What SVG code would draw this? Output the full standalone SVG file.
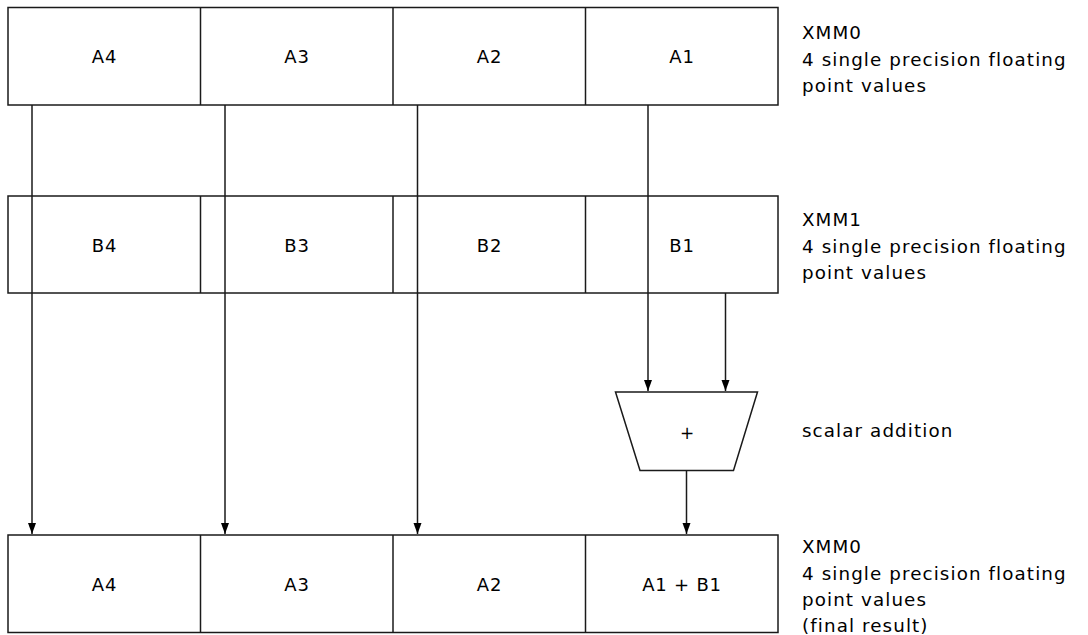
<svg xmlns="http://www.w3.org/2000/svg" width="1088" height="635" viewBox="0 0 1088 635">
<style>
.box{fill:#fff;stroke:#1a1a1a;stroke-width:1.5}
.ln{stroke:#1a1a1a;stroke-width:1.5;fill:none}
.cell{font-family:"DejaVu Sans",sans-serif;font-size:18px;fill:#000;text-anchor:middle;letter-spacing:0.8px}
.lbl{font-family:"DejaVu Sans",sans-serif;font-size:18.3px;fill:#000;letter-spacing:1.1px}
.plus{font-family:"DejaVu Sans",sans-serif;font-size:17px;fill:#000;text-anchor:middle}
</style>
<defs>
<marker id="arr" markerUnits="userSpaceOnUse" markerWidth="12" markerHeight="10" refX="11" refY="5" orient="auto" viewBox="0 0 12 10">
<path d="M0,1 L11,5 L0,9 z" fill="#000"/>
</marker>
</defs>
<rect width="1088" height="635" fill="#fff"/>

<g id="xmm0-top">
<rect class="box" x="8" y="7.5" width="770" height="97.5"/>
<line class="ln" x1="200.5" y1="7.5" x2="200.5" y2="105"/>
<line class="ln" x1="393" y1="7.5" x2="393" y2="105"/>
<line class="ln" x1="585.5" y1="7.5" x2="585.5" y2="105"/>
<text class="cell" x="104.5" y="63">A4</text>
<text class="cell" x="297" y="63">A3</text>
<text class="cell" x="489.5" y="63">A2</text>
<text class="cell" x="682" y="63">A1</text>
<text class="lbl" x="802" y="39">XMM0</text>
<text class="lbl" x="802" y="66">4 single precision floating</text>
<text class="lbl" x="802" y="92">point values</text>
</g>

<g id="xmm1">
<rect class="box" x="8" y="196" width="770" height="97"/>
<line class="ln" x1="200.5" y1="196" x2="200.5" y2="293"/>
<line class="ln" x1="393" y1="196" x2="393" y2="293"/>
<line class="ln" x1="585.5" y1="196" x2="585.5" y2="293"/>
<text class="cell" x="104.5" y="252">B4</text>
<text class="cell" x="297" y="252">B3</text>
<text class="cell" x="489.5" y="252">B2</text>
<text class="cell" x="682" y="252">B1</text>
<text class="lbl" x="802" y="226">XMM1</text>
<text class="lbl" x="802" y="252.5">4 single precision floating</text>
<text class="lbl" x="802" y="279">point values</text>
</g>

<g id="adder">
<polygon class="box" points="615.5,392 757.5,392 733.5,470.5 640,470.5"/>
<text class="plus" x="687" y="439">+</text>
<text class="lbl" x="802" y="437">scalar addition</text>
</g>

<g id="xmm0-result">
<rect class="box" x="8" y="535" width="770" height="97.5"/>
<line class="ln" x1="200.5" y1="535" x2="200.5" y2="632.5"/>
<line class="ln" x1="393" y1="535" x2="393" y2="632.5"/>
<line class="ln" x1="585.5" y1="535" x2="585.5" y2="632.5"/>
<text class="cell" x="104.5" y="590.5">A4</text>
<text class="cell" x="297" y="590.5">A3</text>
<text class="cell" x="489.5" y="590.5">A2</text>
<text class="cell" x="682" y="590.5">A1 + B1</text>
<text class="lbl" x="802" y="553">XMM0</text>
<text class="lbl" x="802" y="579.5">4 single precision floating</text>
<text class="lbl" x="802" y="606">point values</text>
<text class="lbl" x="802" y="632">(final result)</text>
</g>

<g id="connectors">
<line class="ln" x1="32" y1="105" x2="32" y2="534" marker-end="url(#arr)"/>
<line class="ln" x1="225" y1="105" x2="225" y2="534" marker-end="url(#arr)"/>
<line class="ln" x1="417.5" y1="105" x2="417.5" y2="534" marker-end="url(#arr)"/>
<line class="ln" x1="648" y1="105" x2="648" y2="391" marker-end="url(#arr)"/>
<line class="ln" x1="725.5" y1="293" x2="725.5" y2="391" marker-end="url(#arr)"/>
<line class="ln" x1="686.5" y1="470.5" x2="686.5" y2="534" marker-end="url(#arr)"/>
</g>
</svg>
